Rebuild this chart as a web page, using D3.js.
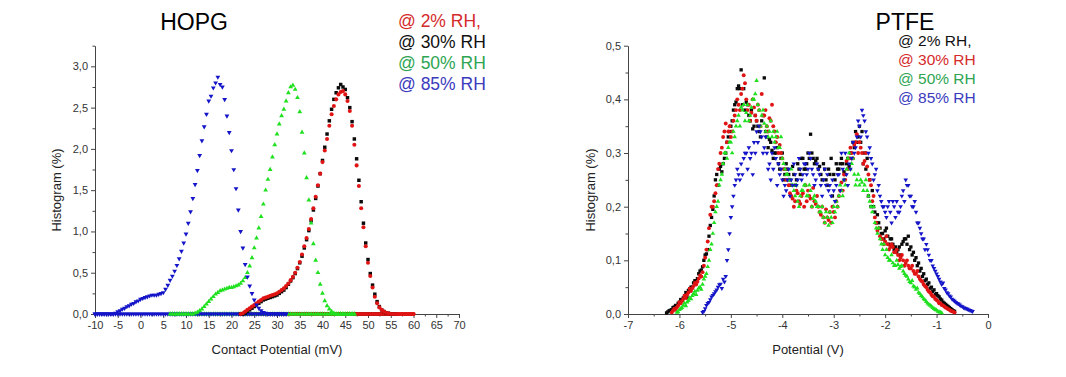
<!DOCTYPE html>
<html>
<head>
<meta charset="utf-8">
<script src="https://cdn.jsdelivr.net/npm/d3@7"></script>
<style>
body { margin: 0; background: #fff; }
svg text { font-family: Arial, "Liberation Sans", sans-serif; }
</style>
</head>
<body>
<svg id="chart" width="1066" height="377"></svg>
<script>
// ---- HOPG, histogram (%) every 0.5 mV ----
var hopgStep = 0.5;
var hopgStart = { rh2: 22, rh30: 22, rh50: 6.5, rh85: -10 };
// each HOPG set also carries a row of zero-valued bins over its full span
var hopgZeroSpan = { rh30: [22, 56], rh2: [22, 60], rh50: [6.5, 47], rh85: [-10, 32] };
var hopgRh2 = [0,0.01,0.03,0.05,0.07,0.09,0.11,0.13,0.15,0.17,
  0.19,0.2,0.21,0.22,0.23,0.24,0.25,0.27,0.29,0.31,
  0.34,0.37,0.41,0.45,0.5,0.56,0.63,0.72,0.82,0.92,
  1.03,1.15,1.28,1.42,1.56,1.7,1.84,1.98,2.12,2.28,
  2.42,2.52,2.6,2.66,2.69,2.7,2.66,2.58,2.46,2.28,
  2.05,1.8,1.55,1.28,1.05,0.82,0.62,0.46,0.32,0.21,
  0.13,0.08,0.05,0.03,0.015,0.01,0,0,0,0,
  0,0,0,0,0,0,0];
var hopgRh30 = [0,0,0.01,0.03,0.05,0.07,0.09,0.11,0.13,0.15,
  0.17,0.18,0.19,0.2,0.21,0.22,0.23,0.25,0.27,0.29,
  0.32,0.36,0.4,0.44,0.49,0.55,0.62,0.7,0.8,0.9,
  1.01,1.13,1.26,1.4,1.55,1.7,1.86,2.02,2.18,2.34,
  2.48,2.6,2.68,2.74,2.78,2.75,2.72,2.62,2.5,2.33,
  2.12,1.88,1.62,1.36,1.1,0.86,0.66,0.49,0.35,0.24,
  0.15,0.09,0.05,0.03,0.015,0.01,0,0,0];
var hopgRh50 = [0,0,0,0,0,0,0,0,0,0,0,
  0.01,0.02,0.04,0.06,0.09,0.12,0.15,0.18,0.21,0.24,
  0.26,0.28,0.29,0.3,0.31,0.32,0.32,0.33,0.34,0.35,
  0.37,0.4,0.44,0.5,0.58,0.68,0.8,0.92,1.04,1.18,
  1.33,1.5,1.63,1.75,1.9,2.05,2.18,2.3,2.4,2.48,
  2.58,2.68,2.75,2.77,2.72,2.62,2.45,2.2,1.95,1.65,
  1.38,1.1,0.85,0.65,0.5,0.36,0.25,0.16,0.1,0.06,
  0.03,0.01,0,0,0,0,0,0,0,0,
  0];
var hopgRh85 = [0,0,0,0,0,0,0,0,0,
  0.01,0.03,0.04,0.06,0.07,0.09,0.1,0.12,0.13,0.15,
  0.16,0.18,0.19,0.2,0.21,0.22,0.23,0.23,0.23,0.24,
  0.25,0.26,0.3,0.35,0.41,0.46,0.52,0.59,0.67,0.76,
  0.86,0.97,1.1,1.24,1.4,1.57,1.74,1.92,2.1,2.27,
  2.42,2.58,2.64,2.74,2.8,2.87,2.78,2.75,2.6,2.4,
  2.2,1.98,1.75,1.52,1.26,1.0,0.8,0.6,0.45,0.34,
  0.25,0.17,0.11,0.07,0.04,0.02,0.01,0,0,0,
  0,0,0,0,0,0];
var hopgLegend = ["@ 2% RH,", "@ 30% RH", "@ 50% RH", "@ 85% RH"];
var hopgXTicks = d3.range(-10, 71, 5);
var hopgYTicks = [0, 0.5, 1.0, 1.5, 2.0, 2.5, 3.0];

// ---- PTFE, histogram (%) every 0.05 V, two interleaved passes (a / b) ----
var ptfeStep = 0.05;
var ptfeStart = { rh2: -6.25, rh30: -6.15, rh50: -6.05, rh85: -5.55 };
var ptfeRh2 = [0.002,0.006,0.008,0.013,0.015,0.022,0.025,0.034,0.03,0.047,
  0.05,0.062,0.066,0.08,0.088,0.11,0.12,0.165,0.195,0.25,
  0.24,0.275,0.28,0.3,0.33,0.35,0.38,0.395,0.425,0.455,
  0.42,0.395,0.37,0.38,0.35,0.36,0.34,0.36,0.44,0.33,
  0.325,0.305,0.3,0.31,0.27,0.3,0.26,0.27,0.25,0.275,
  0.24,0.28,0.26,0.29,0.27,0.3,0.335,0.29,0.285,0.27,
  0.26,0.28,0.25,0.27,0.29,0.26,0.28,0.27,0.29,0.265,
  0.28,0.275,0.29,0.31,0.32,0.35,0.34,0.3,0.29,0.25,
  0.23,0.19,0.185,0.16,0.15,0.155,0.145,0.14,0.13,0.125,
  0.12,0.11,0.135,0.14,0.145,0.125,0.115,0.105,0.095,0.085,
  0.075,0.065,0.058,0.05,0.045,0.038,0.032,0.026,0.02,0.016,
  0.012,0.008,0.005];
var ptfeRh2b = [0.004,0.007,0.012,0.016,0.02,0.027,0.03,0.04,0.044,0.05,
  0.058,0.062,0.075,0.082,0.1,0.112,0.145,0.18,0.22,0.26,
  0.27,0.265,0.29,0.32,0.34,0.36,0.39,0.42,0.42,0.39,
  0.38,0.39,0.36,0.345,0.37,0.35,0.33,0.37,0.34,0.31,
  0.32,0.29,0.3,0.28,0.29,0.25,0.28,0.26,0.24,0.26,
  0.25,0.27,0.29,0.27,0.28,0.29,0.3,0.28,0.29,0.275,
  0.25,0.27,0.24,0.26,0.22,0.25,0.27,0.28,0.28,0.26,
  0.29,0.3,0.32,0.34,0.33,0.32,0.28,0.27,0.22,0.2,
  0.2,0.17,0.17,0.15,0.14,0.16,0.13,0.14,0.12,0.115,
  0.125,0.13,0.14,0.13,0.12,0.11,0.1,0.09,0.08,0.07,
  0.062,0.055,0.048,0.042,0.036,0.034,0.028,0.022,0.018,0.014,
  0.01,0.006];
var ptfeRh30 = [0.003,0.01,0.012,0.022,0.024,0.034,0.036,0.047,0.048,0.058,
  0.06,0.072,0.078,0.105,0.135,0.185,0.2,0.225,0.27,0.3,
  0.33,0.355,0.34,0.33,0.36,0.38,0.39,0.41,0.445,0.4,
  0.39,0.375,0.385,0.36,0.38,0.41,0.37,0.35,0.365,0.39,
  0.34,0.33,0.315,0.29,0.27,0.25,0.225,0.215,0.21,0.225,
  0.205,0.225,0.24,0.23,0.215,0.235,0.205,0.2,0.185,0.18,
  0.195,0.175,0.17,0.19,0.21,0.22,0.245,0.26,0.285,0.29,
  0.3,0.315,0.335,0.32,0.3,0.285,0.275,0.25,0.21,0.18,
  0.155,0.145,0.14,0.135,0.13,0.125,0.125,0.115,0.11,0.105,
  0.1,0.095,0.09,0.085,0.08,0.075,0.07,0.062,0.055,0.05,
  0.042,0.036,0.032,0.026,0.02,0.017,0.014,0.011,0.008,0.005,
  0.003];
var ptfeRh30b = [0.006,0.008,0.016,0.02,0.028,0.03,0.04,0.043,0.052,0.055,
  0.066,0.07,0.09,0.12,0.16,0.2,0.21,0.24,0.28,0.31,
  0.34,0.32,0.35,0.34,0.37,0.4,0.38,0.42,0.43,0.38,
  0.36,0.4,0.37,0.39,0.35,0.37,0.38,0.34,0.36,0.35,
  0.32,0.3,0.3,0.27,0.25,0.24,0.22,0.2,0.23,0.21,
  0.22,0.2,0.21,0.22,0.2,0.21,0.22,0.19,0.2,0.17,
  0.18,0.19,0.2,0.18,0.2,0.23,0.23,0.25,0.27,0.31,
  0.29,0.32,0.3,0.31,0.28,0.3,0.26,0.24,0.22,0.17,
  0.16,0.14,0.13,0.145,0.12,0.13,0.115,0.12,0.1,0.11,
  0.09,0.1,0.085,0.09,0.075,0.08,0.065,0.06,0.052,0.045,
  0.04,0.033,0.028,0.024,0.02,0.016,0.012,0.009,0.006,0.004];
var ptfeRh50 = [0.003,0.008,0.012,0.02,0.022,0.03,0.034,0.042,0.044,0.05,
  0.055,0.07,0.088,0.12,0.15,0.19,0.21,0.25,0.28,0.3,
  0.31,0.32,0.34,0.35,0.37,0.385,0.39,0.375,0.36,0.385,
  0.4,0.435,0.38,0.37,0.355,0.35,0.34,0.33,0.32,0.34,
  0.31,0.29,0.27,0.26,0.25,0.24,0.22,0.21,0.22,0.23,
  0.24,0.22,0.23,0.215,0.21,0.2,0.19,0.18,0.19,0.165,
  0.18,0.2,0.21,0.22,0.23,0.25,0.27,0.3,0.28,0.26,
  0.25,0.24,0.245,0.24,0.23,0.21,0.19,0.17,0.15,0.14,
  0.12,0.11,0.105,0.1,0.095,0.09,0.092,0.088,0.08,0.072,
  0.065,0.058,0.052,0.046,0.04,0.034,0.028,0.023,0.018,0.014,
  0.01,0.007,0.004,0.002];
var ptfeRh50b = [0.004,0.01,0.016,0.015,0.025,0.028,0.038,0.036,0.048,0.046,
  0.065,0.075,0.1,0.13,0.17,0.2,0.24,0.26,0.3,0.29,
  0.32,0.3,0.33,0.36,0.35,0.38,0.36,0.39,0.37,0.4,
  0.41,0.39,0.35,0.38,0.34,0.33,0.36,0.34,0.33,0.31,
  0.33,0.28,0.26,0.25,0.27,0.23,0.24,0.2,0.23,0.24,
  0.22,0.24,0.2,0.22,0.2,0.19,0.2,0.17,0.18,0.19,
  0.17,0.19,0.2,0.24,0.22,0.24,0.29,0.27,0.29,0.24,
  0.26,0.25,0.23,0.25,0.22,0.2,0.2,0.16,0.16,0.13,
  0.13,0.12,0.1,0.11,0.09,0.1,0.085,0.09,0.075,0.07,
  0.06,0.062,0.05,0.048,0.038,0.032,0.026,0.02,0.016,0.012,
  0.008,0.005,0.003];
var ptfeRh85 = [0.003,0.01,0.02,0.027,0.035,0.042,0.05,0.056,0.065,0.07,
  0.12,0.18,0.22,0.25,0.26,0.28,0.29,0.3,0.31,0.3,
  0.32,0.34,0.35,0.33,0.31,0.3,0.28,0.3,0.31,0.24,
  0.26,0.25,0.24,0.25,0.22,0.24,0.26,0.25,0.27,0.26,
  0.28,0.27,0.29,0.26,0.25,0.27,0.24,0.25,0.24,0.23,
  0.22,0.23,0.24,0.26,0.3,0.25,0.26,0.28,0.29,0.3,
  0.33,0.35,0.38,0.36,0.33,0.31,0.28,0.26,0.23,0.22,
  0.2,0.19,0.2,0.19,0.21,0.18,0.19,0.2,0.23,0.25,
  0.24,0.22,0.2,0.19,0.17,0.15,0.14,0.13,0.11,0.1,
  0.085,0.075,0.065,0.055,0.048,0.04,0.034,0.028,0.024,0.02,
  0.017,0.014,0.011,0.009,0.007,0.005];
var ptfeRh85b = [0.005,0.016,0.022,0.032,0.038,0.045,0.055,0.048,0.06,0.1,
  0.15,0.2,0.24,0.27,0.25,0.26,0.3,0.27,0.29,0.26,
  0.3,0.32,0.34,0.3,0.33,0.27,0.25,0.27,0.29,0.28,
  0.27,0.22,0.23,0.27,0.25,0.28,0.24,0.29,0.25,0.28,
  0.26,0.3,0.27,0.24,0.28,0.26,0.22,0.27,0.26,0.24,
  0.25,0.21,0.26,0.23,0.27,0.3,0.24,0.27,0.32,0.31,
  0.36,0.33,0.37,0.34,0.3,0.29,0.25,0.27,0.24,0.21,
  0.2,0.18,0.21,0.17,0.2,0.21,0.19,0.22,0.21,0.24,
  0.22,0.2,0.21,0.17,0.16,0.14,0.12,0.12,0.1,0.09,
  0.08,0.07,0.06,0.058,0.045,0.038,0.032,0.026,0.022,0.019,
  0.015,0.012,0.01,0.008,0.006];
var ptfeLegend = ["@ 2% RH,", "@ 30% RH", "@ 50% RH", "@ 85% RH"];
var ptfeXTicks = d3.range(-7, 1, 1);
var ptfeYTicks = [0, 0.1, 0.2, 0.3, 0.4, 0.5];

var svg = d3.select("#chart");
var comma = function(d) { return d3.format(".1f")(d).replace(".", ","); };
var plain = function(d) { return String(d); }; // keeps the ascii hyphen

var cMark = { black: "#0a0a0a", red: "#e01414", green: "#1fe01f", blue: "#1414c8" };
var cText = { black: "#111", red: "#d42a2a", green: "#2ea552", blue: "#3b3bbd" };

function toPoints(arr, start, step) {
    return arr.map(function(v, i) { return { x: start + i * step, y: v }; });
}

function zeroRow(span, step) {
    var n = Math.round((span[1] - span[0]) / step);
    return d3.range(n + 1).map(function(i) { return { x: span[0] + i * step, y: 0 }; });
}

function drawPanel(p) {
    var x = d3.scaleLinear().domain(p.xDomain).range(p.xRange);
    var y = d3.scaleLinear().domain(p.yDomain).range([314, 45.7]);
    var g = svg.append("g");

    // minor ticks
    g.append("g").attr("transform", "translate(0,314)")
        .call(d3.axisBottom(x).tickValues(p.xMinor).tickSize(2.5).tickFormat(""))
        .call(function(a) { a.select(".domain").remove(); });
    g.append("g").attr("transform", "translate(" + p.xRange[0] + ",0)")
        .call(d3.axisLeft(y).tickValues(p.yMinor).tickSize(2.5).tickFormat(""))
        .call(function(a) { a.select(".domain").remove(); });

    var xa = g.append("g").attr("transform", "translate(0,314)")
        .call(d3.axisBottom(x).tickValues(p.xTicks).tickSize(4).tickSizeOuter(0).tickPadding(3).tickFormat(plain));
    var ya = g.append("g").attr("transform", "translate(" + p.xRange[0] + ",0)")
        .call(d3.axisLeft(y).tickValues(p.yTicks).tickSize(4).tickSizeOuter(0).tickPadding(3).tickFormat(comma));
    [xa, ya].forEach(function(a) {
        a.selectAll("text").attr("font-size", 11).attr("fill", "#333");
    });
    g.selectAll(".domain, .tick line").attr("stroke", "#444");

    function marks(s, pts) {
        var sym = d3.symbol().type(s.shape).size(s.size);
        g.append("g").selectAll("path")
            .data(pts)
            .enter().append("path")
            .attr("d", sym)
            .attr("fill", cMark[s.color])
            .attr("transform", function(d) {
                return "translate(" + x(d.x) + "," + y(d.y) + ")" + (s.down ? " rotate(180)" : "");
            });
    }

    // zero rows first, so the curves sit on top of them
    p.series.forEach(function(s) {
        if (s.zeroSpan) marks(s, zeroRow(s.zeroSpan, p.step));
    });
    p.series.forEach(function(s) {
        marks(s, toPoints(s.values, s.start, p.step));
    });

    svg.append("text").attr("x", p.titleX).attr("y", 30).attr("text-anchor", "middle")
        .attr("font-size", 23).attr("fill", "#000").text(p.title);

    svg.append("text").attr("transform", "translate(" + p.yLabelX + ",190) rotate(-90)")
        .attr("text-anchor", "middle").attr("font-size", 13).attr("fill", "#222").text("Histogram (%)");
    svg.append("text").attr("x", (p.xRange[0] + p.xRange[1]) / 2).attr("y", 354)
        .attr("text-anchor", "middle").attr("font-size", 13).attr("fill", "#222").text(p.xLabel);

    svg.append("g").selectAll("text").data(p.legend).enter().append("text")
        .attr("x", p.legendX)
        .attr("y", function(d, i) { return p.legendY + i * p.legendGap; })
        .attr("font-size", p.legendSize)
        .attr("fill", function(d, i) { return cText[p.legendColors[i]]; })
        .text(function(d) { return d; });
}

drawPanel({
    xDomain: [-10, 70], xRange: [95, 459], yDomain: [0, 3.25],
    xTicks: hopgXTicks, xMinor: d3.range(-7.5, 70, 5),
    yTicks: hopgYTicks, yMinor: [0.25, 0.75, 1.25, 1.75, 2.25, 2.75, 3.25],
    step: hopgStep,
    series: [
        { values: hopgRh30, start: hopgStart.rh30, zeroSpan: hopgZeroSpan.rh30, color: "black", shape: d3.symbolSquare, size: 12 },
        { values: hopgRh2, start: hopgStart.rh2, zeroSpan: hopgZeroSpan.rh2, color: "red", shape: d3.symbolCircle, size: 13 },
        { values: hopgRh50, start: hopgStart.rh50, zeroSpan: hopgZeroSpan.rh50, color: "green", shape: d3.symbolTriangle, size: 10 },
        { values: hopgRh85, start: hopgStart.rh85, zeroSpan: hopgZeroSpan.rh85, color: "blue", shape: d3.symbolTriangle, size: 10, down: true }
    ],
    title: "HOPG", titleX: 194, yLabelX: 61, xLabel: "Contact Potential (mV)",
    legend: hopgLegend, legendColors: ["red", "black", "green", "blue"],
    legendX: 398, legendY: 27, legendGap: 21, legendSize: 17.5
});

var half = ptfeStep / 2;
drawPanel({
    xDomain: [-7, 0], xRange: [628, 988], yDomain: [0, 0.5],
    xTicks: ptfeXTicks, xMinor: d3.range(-6.5, 0, 1),
    yTicks: ptfeYTicks, yMinor: [0.05, 0.15, 0.25, 0.35, 0.45],
    step: ptfeStep,
    series: [
        { values: ptfeRh2, start: ptfeStart.rh2, color: "black", shape: d3.symbolSquare, size: 11 },
        { values: ptfeRh2b, start: ptfeStart.rh2 + half, color: "black", shape: d3.symbolSquare, size: 11 },
        { values: ptfeRh30, start: ptfeStart.rh30, color: "red", shape: d3.symbolCircle, size: 12 },
        { values: ptfeRh30b, start: ptfeStart.rh30 + half, color: "red", shape: d3.symbolCircle, size: 12 },
        { values: ptfeRh50, start: ptfeStart.rh50, color: "green", shape: d3.symbolTriangle, size: 9 },
        { values: ptfeRh50b, start: ptfeStart.rh50 + half, color: "green", shape: d3.symbolTriangle, size: 9 },
        { values: ptfeRh85, start: ptfeStart.rh85, color: "blue", shape: d3.symbolTriangle, size: 9, down: true },
        { values: ptfeRh85b, start: ptfeStart.rh85 + half, color: "blue", shape: d3.symbolTriangle, size: 9, down: true }
    ],
    title: "PTFE", titleX: 905, yLabelX: 595, xLabel: "Potential (V)",
    legend: ptfeLegend, legendColors: ["black", "red", "green", "blue"],
    legendX: 898, legendY: 46, legendGap: 19, legendSize: 15.5
});
</script>
</body>
</html>
